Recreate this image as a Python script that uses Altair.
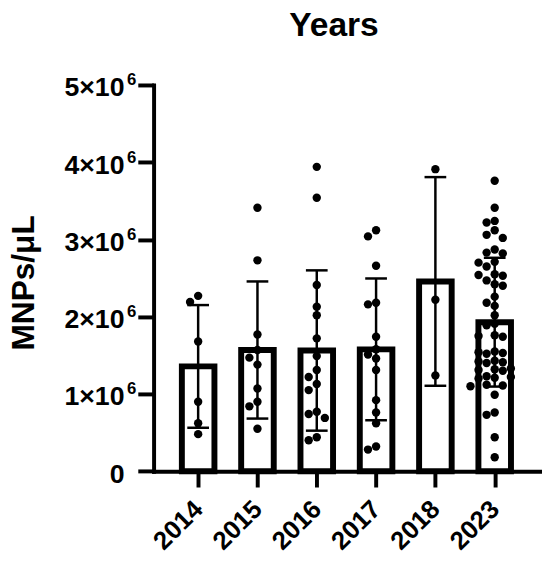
import altair as alt
import pandas as pd

# ---- data (MNPs/µL, in units of 10^6) ----
years = ["2014", "2015", "2016", "2017", "2018", "2023"]
v2014 = [2.27, 2.19, 1.68, 0.90, 0.62, 0.48]
v2015 = [3.41, 2.73, 1.77, 1.57, 1.47, 1.38, 1.07, 0.90, 0.84, 0.55]
v2016 = [3.94, 3.54, 2.41, 2.13, 2.02, 1.72, 1.49, 1.31, 1.22, 1.13, 1.05,
         0.77, 0.74, 0.69, 0.44, 0.40]
v2017 = [3.12, 3.04, 2.66, 2.18, 2.16, 1.74, 1.58, 1.51, 1.46, 1.31, 0.92,
         0.76, 0.62, 0.32, 0.28]
v2018 = [3.91, 2.22, 1.24]
v2023 = [3.76, 3.41, 3.24, 3.22, 3.12, 3.06, 3.02, 2.87, 2.83, 2.82, 2.71,
         2.70, 2.65, 2.55, 2.54, 2.53, 2.47, 2.42, 2.40, 2.26, 2.18, 2.14,
         2.02, 1.91, 1.89, 1.76, 1.75, 1.74, 1.55, 1.54, 1.53, 1.52, 1.43,
         1.42, 1.41, 1.40, 1.33, 1.32, 1.31, 1.30, 1.23, 1.22, 1.21, 1.20,
         1.12, 1.11, 1.10, 0.99, 0.76, 0.73, 0.44, 0.18]
series = [v2014, v2015, v2016, v2017, v2018, v2023]
y_ticks = [0, 1, 2, 3, 4, 5]

# ---- layout constants ----
W, H = 391.5, 391.3
YMAX = 5e6
STEP_PX = 61.66                     # px between category centres
X_DOMAIN = [-0.668, 5.681]          # category index range shown
PX_PER_UNIT = H / YMAX
DOT = 8.5                            # dot diameter px
COL = 8.4                            # swarm column spacing px
BAR_W = 33
FONT = "Liberation Sans"


def swarm(vals):
    """simple column beeswarm: place from the top, nearest free column."""
    placed = []
    res = [0.0] * len(vals)
    order = sorted(range(len(vals)), key=lambda i: -vals[i])
    for i in order:
        y = vals[i] * PX_PER_UNIT
        for c in [0, -1, 1, -2, 2, -3, 3]:
            x = c * COL
            if all(((x - px) ** 2 + (y - py) ** 2) >= (DOT - 0.01) ** 2
                   for px, py in placed):
                placed.append((x, y))
                res[i] = x
                break
    return res


rows = []
for i, (yr, vals) in enumerate(zip(years, series)):
    scaled = [v * 1e6 for v in vals]
    offs = swarm(scaled)
    for v, o in zip(scaled, offs):
        rows.append({"year": yr, "idx": i, "value": v,
                     "xpos": i + o / STEP_PX})
df = pd.DataFrame(rows)

year_expr = "[" + ",".join("'%s'" % y for y in years) + "][datum.value]"

x_scale = alt.Scale(domain=X_DOMAIN, nice=False, zero=False)
x_axis = alt.Axis(title=None, values=list(range(len(years))),
                  labelExpr=year_expr, labelAngle=-45, labelAlign="right",
                  labelBaseline="middle", labelFontSize=26, labelFont=FONT,
                  labelFontWeight="bold", labelColor="black", labelPadding=18,
                  tickSize=16, tickWidth=4, tickColor="black", grid=False,
                  domainWidth=4, domainColor="black", domainCap="square",
                  labelFlush=False, labelOverlap=False)

y_scale = alt.Scale(domain=[0, YMAX], nice=False, zero=True)
y_axis = alt.Axis(values=[t * 1e6 for t in y_ticks], grid=False,
                  labelExpr="datum.value == 0 ? '0' : format(datum.value/1e6, 'd') + '×10'",
                  labelFontSize=27, labelFont=FONT, labelFontWeight="bold",
                  labelColor="black", labelPadding=14, labelOffset=3,
                  labelBaseline="middle",
                  tickSize=16, tickWidth=4, tickColor="black",
                  domainWidth=4, domainColor="black", domainCap="square",
                  title="MNPs/μL", titleFontSize=32, titleFont=FONT,
                  titleFontWeight="bold", titleColor="black",
                  titleBaseline="alphabetic", titleX=-122, titleY=200,
                  labelFlush=False)
sup_axis = alt.Axis(orient="left", values=[t * 1e6 for t in y_ticks[1:]],
                    grid=False, domain=False, labelExpr="'6'",
                    labelFontSize=17, labelFont=FONT, labelFontWeight="bold",
                    labelColor="black", labelPadding=2, labelOffset=-5,
                    labelBaseline="middle",
                    tickSize=16, tickOpacity=0, title=None, labelFlush=False)

base = alt.Chart(df)

bars = base.mark_bar(size=BAR_W, fill="white", stroke="black", strokeWidth=6,
                     orient="vertical").encode(
    x=alt.X("idx:Q", scale=x_scale, axis=x_axis),
    y=alt.Y("mean(value):Q", scale=y_scale, axis=y_axis, stack=None),
)

stats = base.transform_aggregate(
    m="mean(value)", sd="stdev(value)", groupby=["idx"]
).transform_calculate(lo="datum.m - datum.sd", hi="datum.m + datum.sd")

err_rule = stats.mark_rule(color="black", strokeWidth=2.5).encode(
    x=alt.X("idx:Q", scale=x_scale, axis=x_axis),
    y=alt.Y("lo:Q", scale=y_scale, axis=None),
    y2="hi:Q",
)
err_caps = stats.transform_fold(["lo", "hi"], as_=["k", "v"]).mark_tick(
    orient="horizontal", size=22, thickness=2.5, color="black", opacity=1
).encode(
    x=alt.X("idx:Q", scale=x_scale, axis=x_axis),
    y=alt.Y("v:Q", scale=y_scale, axis=None),
)

pts = base.mark_circle(size=DOT * DOT, color="black", opacity=1).encode(
    x=alt.X("xpos:Q", scale=x_scale, axis=x_axis),
    y=alt.Y("value:Q", scale=y_scale, axis=sup_axis),
)

chart = alt.layer(bars, err_rule, err_caps, pts).resolve_scale(
    y="independent"
).properties(
    width=W, height=H,
    autosize=alt.AutoSizeParams(type="none"),
    padding={"left": 147.5, "top": 74.4, "right": 2, "bottom": 82},
    title=alt.Title("Years", fontSize=34, font=FONT, fontWeight="bold",
                    color="black", anchor="middle", frame="group", dx=-13,
                    baseline="alphabetic", offset=2),
).configure_view(stroke=None)

chart.save("out.html", embed_options={"renderer": "svg", "actions": False})
